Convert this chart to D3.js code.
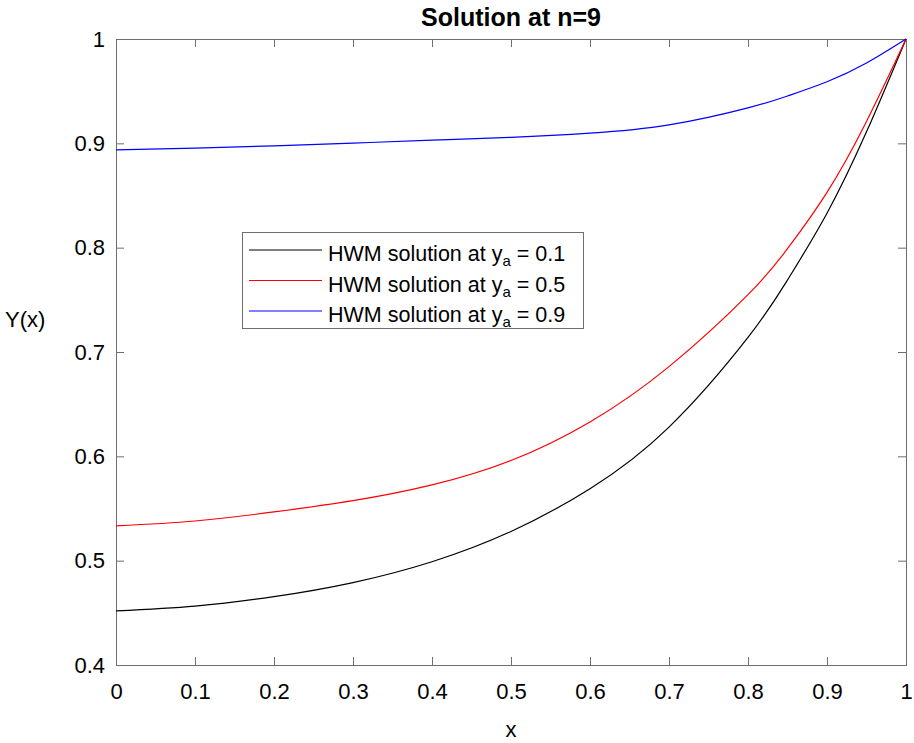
<!DOCTYPE html>
<html>
<head>
<meta charset="utf-8">
<script src="https://cdn.jsdelivr.net/npm/d3@7"></script>
<style>
  html, body { margin: 0; padding: 0; background: #fff; }
  svg { display: block; font-family: "Liberation Sans", Arial, Helvetica, sans-serif; }
</style>
</head>
<body>
<svg id="chart" width="914" height="743"></svg>
<script>
// Sample positions along x
const xs = [0, 0.1, 0.2, 0.3, 0.4, 0.5, 0.6, 0.7, 0.8, 0.85, 0.9, 0.95, 1.0];

// HWM solutions for three values of y_a
const yA01 = [0.4518, 0.4565, 0.4655, 0.479, 0.499, 0.528, 0.569, 0.628, 0.714, 0.769, 0.833, 0.911, 1.0];
const yA05 = [0.5333, 0.538, 0.5467, 0.5575, 0.5726, 0.596, 0.633, 0.686, 0.755, 0.799, 0.853, 0.921, 1.0];
const yA09 = [0.8937, 0.8955, 0.8975, 0.9002, 0.903, 0.9058, 0.9098, 0.9177, 0.934, 0.9454, 0.959, 0.977, 1.0];

const seriesNames = ["0.1", "0.5", "0.9"];
const seriesColors = ["#000000", "#ff0000", "#0000ff"];

const xTicks = [0, 0.1, 0.2, 0.3, 0.4, 0.5, 0.6, 0.7, 0.8, 0.9, 1];
const yTicks = [0.4, 0.5, 0.6, 0.7, 0.8, 0.9, 1];

const svg = d3.select("#chart");
const plot = { left: 116, right: 906, top: 39, bottom: 665 };

const x = d3.scaleLinear().domain([0, 1]).range([plot.left, plot.right]);
const y = d3.scaleLinear().domain([0.4, 1]).range([plot.bottom, plot.top]);

const axisColor = "#6e6e6e";
const fmt = d => (d === 0 || d === 1) ? String(d) : d3.format(".1f")(d);

// Axes with inward ticks on all four sides
function styleAxis(g) {
  g.select(".domain").remove();
  g.selectAll(".tick line").attr("stroke", axisColor).attr("stroke-width", 1);
  g.selectAll(".tick text").attr("fill", "#000").style("font-size", "22px")
    .style("font-family", "'Liberation Sans', Arial, sans-serif");
}

svg.append("g").attr("transform", `translate(0,${plot.bottom})`)
  .call(d3.axisBottom(x).tickValues(xTicks).tickFormat(fmt).tickSizeInner(-8).tickSizeOuter(0).tickPadding(18))
  .call(styleAxis);
svg.append("g").attr("transform", `translate(0,${plot.top})`)
  .call(d3.axisTop(x).tickValues(xTicks).tickFormat("").tickSizeInner(-8).tickSizeOuter(0))
  .call(styleAxis);
svg.append("g").attr("transform", `translate(${plot.left},0)`)
  .call(d3.axisLeft(y).tickValues(yTicks).tickFormat(fmt).tickSizeInner(-8).tickSizeOuter(0).tickPadding(11))
  .call(styleAxis);
svg.append("g").attr("transform", `translate(${plot.right},0)`)
  .call(d3.axisRight(y).tickValues(yTicks).tickFormat("").tickSizeInner(-8).tickSizeOuter(0))
  .call(styleAxis);

// Plot box
svg.append("rect")
  .attr("x", plot.left + 0.5).attr("y", plot.top + 0.5)
  .attr("width", plot.right - plot.left).attr("height", plot.bottom - plot.top)
  .attr("fill", "none").attr("stroke", axisColor).attr("stroke-width", 1);

// Curves
const line = d3.line().x(d => x(d[0])).y(d => y(d[1])).curve(d3.curveNatural);
[yA01, yA05, yA09].forEach((vals, i) => {
  svg.append("path")
    .datum(xs.map((xv, j) => [xv, vals[j]]))
    .attr("d", line)
    .attr("fill", "none")
    .attr("stroke", seriesColors[i])
    .attr("stroke-width", 1.2);
});

// Title and axis labels
svg.append("text").attr("x", (plot.left + plot.right) / 2).attr("y", 26)
  .attr("text-anchor", "middle").style("font-size", "25px").style("font-weight", "bold")
  .text("Solution at n=9");
svg.append("text").attr("x", 511).attr("y", 737)
  .attr("text-anchor", "middle").style("font-size", "22px").text("x");
svg.append("text").attr("x", 5).attr("y", 327)
  .style("font-size", "22px").text("Y(x)");

// Legend
const legend = svg.append("g");
legend.append("rect")
  .attr("x", 242.5).attr("y", 232.5).attr("width", 341).attr("height", 96)
  .attr("fill", "#fff").attr("stroke", axisColor).attr("stroke-width", 1);
seriesNames.forEach((name, i) => {
  const cy = 250 + i * 30.5;
  legend.append("line")
    .attr("x1", 249).attr("x2", 322).attr("y1", cy).attr("y2", cy)
    .attr("stroke", seriesColors[i]).attr("stroke-width", 1.2);
  const t = legend.append("text").attr("x", 328).attr("y", cy + 11)
    .style("font-size", "21.5px");
  t.append("tspan").text("HWM solution at y");
  t.append("tspan").attr("dy", 5).style("font-size", "15px").text("a");
  t.append("tspan").attr("dy", -5).text(" = " + name);
});
</script>
</body>
</html>
